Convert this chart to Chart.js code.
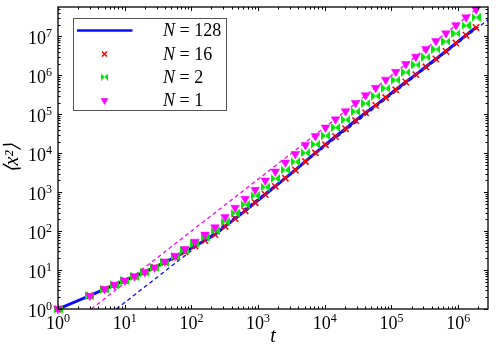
<!DOCTYPE html>
<html>
<head>
<meta charset="utf-8">
<script src="https://cdn.jsdelivr.net/npm/chart.js@4.4.1/dist/chart.umd.min.js"></script>
<style>
  html, body { margin: 0; padding: 0; background: #fff; }
  #wrap { width: 498px; height: 353px; }
</style>
</head>
<body>
<div id="wrap"><canvas id="chart" width="498" height="353"></canvas></div>
<script>
// ---- data (log-log) ----
const times = [1, 3, 5, 7, 10, 14, 20, 28, 40, 57, 80, 113, 160, 226, 320, 453, 640, 905,
  1280, 1810, 2560, 3620, 5120, 7240, 10240, 14480, 20480, 28960, 40960, 57920, 81920,
  115850, 163840, 231700, 327680, 463400, 655360, 926800, 1310720, 1853600];

const msdN128 = [1, 2.19, 3.24, 4.17, 5.37, 6.92, 8.91, 11.7, 15.8, 21.4, 29.5, 41.7, 57.5, 81.3,
  132, 209, 331, 537, 871, 1413, 2291, 3715, 6166, 10230, 16600, 26900, 42700, 69200,
  109600, 169800, 269200, 426600, 676100, 1047000, 1660000, 2630000, 4169000, 6761000,
  10720000, 16980000];

const msdN16 = [1, 2.19, 3.24, 4.17, 5.37, 6.92, 8.91, 11.7, 15.8, 21.4, 29.5, 41.7, 57.5, 81.3,
  132, 209, 331, 537, 871, 1413, 2291, 3715, 6166, 10230, 16600, 26900, 42700, 69200,
  109600, 169800, 269200, 426600, 676100, 1047000, 1660000, 2630000, 4169000, 6761000,
  10720000, 16980000];

const msdN2 = [1, 2.19, 3.24, 4.17, 5.37, 6.92, 8.91, 11.7, 15.8, 22.4, 32.4, 47.9, 69.2, 102,
  174, 288, 479, 813, 1349, 2239, 3715, 6026, 10230, 16980, 28180, 45710, 72440, 117500,
  190500, 295100, 467700, 758600, 1202000, 1862000, 2951000, 4677000, 7413000, 12020000,
  19050000, 30900000];

const msdN1 = [1, 2.19, 3.24, 4.17, 5.37, 6.92, 8.91, 11.7, 16.6, 23.4, 34.7, 53.7, 81.3, 126,
  229, 398, 676, 1148, 1995, 3388, 5754, 9550, 16220, 27540, 45710, 74130, 120200, 195000,
  309000, 478600, 776200, 1230000, 1950000, 3020000, 4786000, 7586000, 12020000, 19500000,
  30900000, 49000000];

// power-law guide lines (dashed)
const fitTimesN128 = [7.5, 2.8e6];
const fitValuesN128 = [1, 2.7e7];
const fitTimesN1 = [3.16, 2.8e6];
const fitValuesN1 = [1, 8.5e7];

const xRange = [1, 2.8e6];
const yRange = [1, 5.7e7];
const xDecades = [0, 1, 2, 3, 4, 5, 6];
const yDecades = [0, 1, 2, 3, 4, 5, 6, 7];

const SERIF = '"Liberation Serif", "Times New Roman", serif';

function pts(xs, ys) {
  return xs.map((x, i) => ({ x, y: ys[i] }));
}

// green "bowtie" marker
function bowtie(color, w, h) {
  const c = document.createElement('canvas');
  c.width = w; c.height = h;
  const g = c.getContext('2d');
  g.fillStyle = color;
  g.beginPath();
  g.moveTo(0, 0); g.lineTo(w / 2 + 0.5, h / 2); g.lineTo(0, h); g.closePath();
  g.moveTo(w, 0); g.lineTo(w / 2 - 0.5, h / 2); g.lineTo(w, h); g.closePath();
  g.fill();
  return c;
}
const bowtieBig = bowtie('#00e600', 9, 9);
const bowtieSmall = bowtie('#00e600', 7, 7);

// box, inward ticks and 10^n labels
const axesPlugin = {
  id: 'axesBox',
  afterDatasetsDraw(chart) {
    const { ctx, chartArea: a } = chart;
    const xs = chart.scales.x, ys = chart.scales.y;
    ctx.save();
    ctx.strokeStyle = '#000';
    ctx.lineWidth = 1;
    ctx.beginPath();
    for (let e = 0; e <= 7; e++) {
      for (let m = 1; m <= 9; m++) {
        const v = m * Math.pow(10, e);
        const len = m === 1 ? 4 : 2.5;
        if (v >= xRange[0] && v <= xRange[1]) {
          const px = Math.round(xs.getPixelForValue(v)) + 0.5;
          ctx.moveTo(px, a.bottom); ctx.lineTo(px, a.bottom - len);
          ctx.moveTo(px, a.top); ctx.lineTo(px, a.top + len);
        }
        if (v >= yRange[0] && v <= yRange[1]) {
          const py = Math.round(ys.getPixelForValue(v)) + 0.5;
          ctx.moveTo(a.left, py); ctx.lineTo(a.left + len, py);
          ctx.moveTo(a.right, py); ctx.lineTo(a.right - len, py);
        }
      }
    }
    ctx.stroke();
    ctx.lineWidth = 1.3;
    ctx.strokeRect(a.left, a.top, a.right - a.left, a.bottom - a.top);

    ctx.fillStyle = '#000';
    const big = '18px ' + SERIF, small = '12px ' + SERIF;
    ctx.textBaseline = 'alphabetic';
    xDecades.forEach(e => {
      const px = xs.getPixelForValue(Math.pow(10, e));
      ctx.font = big; const w1 = ctx.measureText('10').width;
      ctx.font = small; const w2 = ctx.measureText(String(e)).width;
      const x0 = px - (w1 + w2) / 2;
      ctx.font = big; ctx.textAlign = 'left'; ctx.fillText('10', x0, a.bottom + 20);
      ctx.font = small; ctx.fillText(String(e), x0 + w1, a.bottom + 13);
    });
    yDecades.forEach(e => {
      const py = ys.getPixelForValue(Math.pow(10, e));
      ctx.font = small; const w2 = ctx.measureText(String(e)).width;
      const xr = a.left - 6;
      ctx.textAlign = 'right';
      ctx.fillText(String(e), xr, py + 0.5);
      ctx.font = big;
      ctx.fillText('10', xr - w2, py + 7.5);
    });
    ctx.restore();
  }
};

// legend box drawn inside the plot
const legendPlugin = {
  id: 'boxLegend',
  afterDraw(chart) {
    const { ctx } = chart;
    const items = chart.data.datasets.filter(d => d.legendKey);
    ctx.save();
    ctx.fillStyle = '#fff';
    ctx.fillRect(73.5, 18.5, 153, 92);
    ctx.strokeStyle = '#555';
    ctx.lineWidth = 1;
    ctx.strokeRect(73.5, 18.5, 153, 92);
    const rows = [30.5, 54, 77, 100.5];
    items.forEach((d, i) => {
      const y = rows[i];
      if (d.legendKey === 'line') {
        ctx.strokeStyle = d.borderColor;
        ctx.lineWidth = 2.5;
        ctx.beginPath(); ctx.moveTo(77, y); ctx.lineTo(132.5, y); ctx.stroke();
      } else {
        ctx.fillStyle = d.backgroundColor;
        ctx.strokeStyle = d.borderColor;
        ctx.lineWidth = d.borderWidth;
        Chart.helpers.drawPoint(ctx, {
          pointStyle: d.legendStyle || d.pointStyle,
          radius: d.pointRadius * 0.8,
          rotation: d.pointRotation || 0,
          borderWidth: d.borderWidth
        }, 104.5, y);
      }
      const parts = d.label.split('=');
      ctx.fillStyle = '#000';
      ctx.textBaseline = 'middle';
      ctx.textAlign = 'left';
      ctx.font = 'italic 18px ' + SERIF;
      ctx.fillText('N', 163, y + 1);
      const wN = ctx.measureText('N').width;
      ctx.font = '18px ' + SERIF;
      ctx.fillText(' =' + parts[1], 163 + wN, y + 1);
    });
    ctx.restore();
  }
};

const datasets = [
  {
    label: 'N = 128', legendKey: 'line',
    data: pts(times, msdN128), showLine: true,
    borderColor: '#0a0aff', borderWidth: 3, pointRadius: 0, order: 5
  },
  {
    label: 'N = 16', legendKey: 'point',
    data: pts(times, msdN16), showLine: false,
    pointStyle: 'crossRot', pointRadius: 4.5, borderWidth: 1.5,
    borderColor: '#ff0000', backgroundColor: '#ff0000', clip: false, order: 4
  },
  {
    label: 'N = 2', legendKey: 'point',
    data: pts(times, msdN2), showLine: false,
    pointStyle: bowtieBig, legendStyle: bowtieSmall, pointRadius: 4.5, borderWidth: 1,
    borderColor: '#00e600', backgroundColor: '#00e600', clip: false, order: 3
  },
  {
    label: 'N = 1', legendKey: 'point',
    data: pts(times, msdN1), showLine: false,
    pointStyle: 'triangle', pointRotation: 180, pointRadius: 5, borderWidth: 0.5,
    borderColor: '#ff00ff', backgroundColor: '#ff00ff', clip: false, order: 2
  },
  {
    label: 'fit N = 128',
    data: pts(fitTimesN128, fitValuesN128), showLine: true,
    borderColor: '#0a0aff', borderWidth: 1.3, borderDash: [4, 3], pointRadius: 0, order: 6
  },
  {
    label: 'fit N = 1',
    data: pts(fitTimesN1, fitValuesN1), showLine: true,
    borderColor: '#ff00ff', borderWidth: 1.3, borderDash: [4, 3], pointRadius: 0, order: 6
  }
];

new Chart(document.getElementById('chart'), {
  type: 'scatter',
  data: { datasets },
  options: {
    responsive: false,
    animation: false,
    devicePixelRatio: 1,
    layout: { padding: { top: 7, right: 10, left: 0, bottom: 0 } },
    plugins: { legend: { display: false }, tooltip: { enabled: false } },
    scales: {
      x: {
        type: 'logarithmic', min: xRange[0], max: xRange[1],
        grid: { display: false }, border: { display: false },
        ticks: { display: false },
        title: { display: true, text: 't', color: '#000', padding: { top: 0, bottom: 4 },
          font: { family: SERIF, size: 20, style: 'italic' } },
        afterFit(s) { s.height = 44; }
      },
      y: {
        type: 'logarithmic', min: yRange[0], max: yRange[1],
        grid: { display: false }, border: { display: false },
        ticks: { display: false },
        title: { display: true, text: '⟨x²⟩', color: '#000', padding: { top: 1, bottom: 0 },
          font: { family: SERIF, size: 20, style: 'italic' } },
        afterFit(s) { s.width = 58; }
      }
    }
  },
  plugins: [axesPlugin, legendPlugin]
});
</script>
</body>
</html>
